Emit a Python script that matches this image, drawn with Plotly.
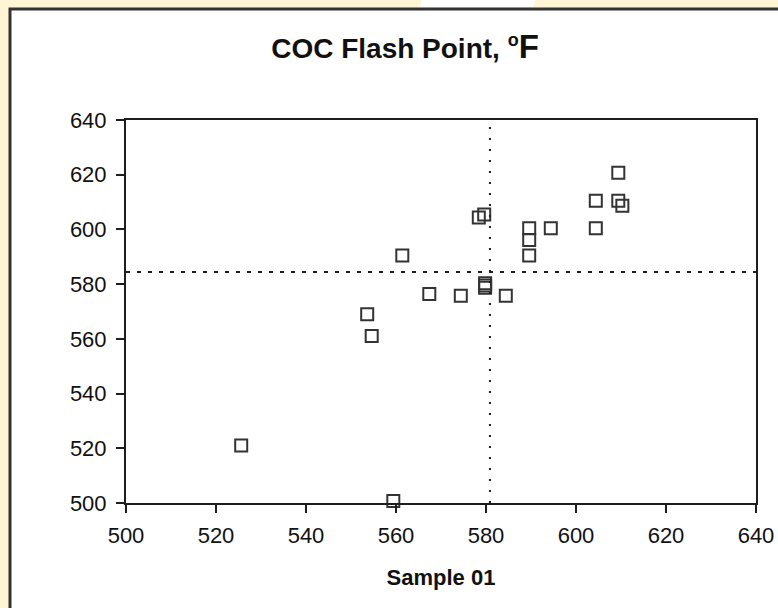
import numpy as np
import plotly.graph_objects as go

# Sample 01 (x) vs comparison results (y), COC flash point, °F
sample01 = [525.6, 559.4, 553.6, 554.6, 561.4, 567.4, 574.4, 578.4, 579.6,
            579.8, 579.8, 579.8, 584.4, 589.6, 589.6, 589.6, 594.4, 604.4,
            604.4, 609.4, 609.4, 610.3]
results = [521.0, 500.7, 569.0, 561.0, 590.5, 576.4, 575.8, 604.4, 605.5,
           580.3, 579.5, 578.7, 575.8, 600.4, 596.1, 590.5, 600.4, 610.5,
           600.4, 620.7, 610.5, 608.7]
tick_vals = [500, 520, 540, 560, 580, 600, 620, 640]

x_mean = float(np.mean(sample01))
y_mean = float(np.mean(results))

W, H = 778, 608
L, R, T, B = 126, 22, 120, 105
pw, ph = W - L - R, H - T - B


def px(x):
    return (x - L) / pw


def py(y):
    return (H - B - y) / ph


FONT = "Liberation Sans, Arial, Helvetica, sans-serif"
INK = "#1e1e1e"

fig = go.Figure()
fig.add_trace(go.Scatter(
    x=sample01, y=results, mode="markers",
    marker=dict(symbol="square-open", size=12, color="#333333",
                line=dict(width=2, color="#333333")),
    cliponaxis=False, showlegend=False, hoverinfo="x+y"))

shapes = [
    # white card with dark border
    dict(type="rect", xref="paper", yref="paper",
         x0=px(10), x1=px(800), y0=py(640), y1=py(9),
         fillcolor="white", line=dict(color="#333333", width=3), layer="below"),
    # light decoration at the top strip
    dict(type="path", xref="paper", yref="paper",
         path=f"M {px(423)} {py(-2)} L {px(537)} {py(-2)} L {px(533)} {py(7)} L {px(420)} {py(7)} Z",
         fillcolor="white", line=dict(width=0), layer="below"),
    # mean lines
    dict(type="line", xref="x", yref="y", x0=x_mean, x1=x_mean, y0=500, y1=640,
         line=dict(color=INK, width=2, dash="2px,9px")),
    dict(type="line", xref="x", yref="y", x0=500, x1=640, y0=y_mean, y1=y_mean,
         line=dict(color=INK, width=2, dash="4px,7px")),
]

axis_common = dict(
    range=[500, 640], tickvals=tick_vals, ticktext=[str(v) for v in tick_vals],
    showgrid=False, zeroline=False, showline=True, linecolor=INK, linewidth=2,
    mirror=True, ticks="outside", ticklen=8, tickwidth=2, tickcolor=INK,
    tickfont=dict(family=FONT, size=22, color="#111111"), automargin=False,
)

fig.update_layout(
    width=W, height=H,
    margin=dict(l=L, r=R, t=T, b=B, pad=0, autoexpand=False),
    paper_bgcolor="#FFF4D3", plot_bgcolor="white",
    title=dict(text="<b>COC Flash Point, <sup><span style='font-size:18px'>o</span></sup><span style='font-size:33px'>F</span></b>",
               x=405 / W, xanchor="center", y=1 - 48 / H, yanchor="middle",
               font=dict(family=FONT, size=28, color="#111111")),
    xaxis=dict(**axis_common, ticklabelstandoff=4,
               title=dict(text="<b>Sample 01</b>", standoff=22,
                          font=dict(family=FONT, size=22, color="#111111"))),
    yaxis=dict(**axis_common, ticklabelstandoff=5),
    shapes=shapes,
)

fig.write_html("out.html", config={"displayModeBar": False},
               post_script="document.body.style.margin='0';document.body.style.padding='0';")
